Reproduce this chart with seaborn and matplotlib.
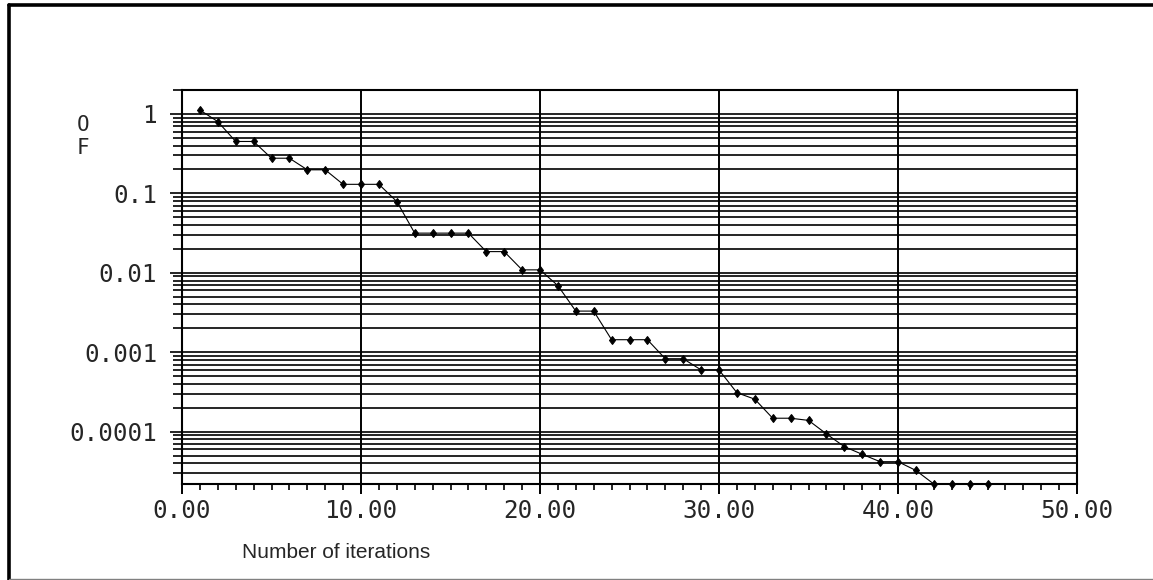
import numpy as np
import pandas as pd
import matplotlib
matplotlib.use("Agg")
import matplotlib.pyplot as plt
import matplotlib.ticker as mticker
from matplotlib.lines import Line2D
import seaborn as sns

# values
iterations = list(range(1, 46))
of_values = [1.12, 0.80, 0.45, 0.45, 0.277, 0.277, 0.198, 0.198, 0.130, 0.130,
             0.130, 0.079, 0.0316, 0.0316, 0.0316, 0.0316, 0.0185, 0.0185, 0.0109, 0.0109,
             0.0069, 0.0033, 0.0033, 0.00144, 0.00144, 0.00144, 0.00083, 0.00083, 0.0006, 0.0006,
             0.00031, 0.000257, 0.000148, 0.000148, 0.000139, 9.4e-5, 6.5e-5, 5.2e-5, 4.2e-5, 4.2e-5,
             3.26e-5, 2.2e-5, 2.2e-5, 2.2e-5, 2.2e-5]
x_ticks = [0, 10, 20, 30, 40, 50]
x_labels = ["0.00", "10.00", "20.00", "30.00", "40.00", "50.00"]
y_ticks = [1, 0.1, 0.01, 0.001, 0.0001]
y_labels = ["1", "0.1", "0.01", "0.001", "0.0001"]

df = pd.DataFrame({"iter": iterations, "of": of_values})

sns.set_style("white")
plt.rcParams["font.family"] = ["DejaVu Sans Mono", "DejaVu Sans"]

fig = plt.figure(figsize=(11.53, 5.80), dpi=100)
ax = fig.add_axes([182 / 1153, 1 - 484 / 580, (1077 - 182) / 1153, (484 - 90) / 580])

sns.lineplot(data=df, x="iter", y="of", ax=ax, color="black", linewidth=0.8,
             marker="d", markersize=4.5, markeredgecolor="black", markerfacecolor="black",
             clip_on=False)

ax.set_yscale("log")
ax.set_xlim(0, 50)
ax.set_ylim(2.2e-5, 2.0)

# grid: all log lines horizontally, decades vertically
ax.yaxis.set_major_locator(mticker.FixedLocator(y_ticks))
ax.yaxis.set_major_formatter(mticker.FixedFormatter(y_labels))
ax.yaxis.set_minor_locator(mticker.LogLocator(base=10, subs=np.arange(2, 10)))
ax.yaxis.set_minor_formatter(mticker.NullFormatter())
ax.xaxis.set_major_locator(mticker.FixedLocator(x_ticks))
ax.xaxis.set_major_formatter(mticker.FixedFormatter(x_labels))
ax.xaxis.set_minor_locator(mticker.MultipleLocator(1))

ax.grid(True, which="both", axis="y", color="black", linewidth=1.2)
ax.grid(True, which="major", axis="x", color="black", linewidth=1.4)
ax.set_axisbelow(True)

for s in ax.spines.values():
    s.set_color("black")
    s.set_linewidth(1.5)
    s.set_visible(True)

ax.tick_params(axis="y", which="both", left=True)
ax.tick_params(axis="x", which="both", bottom=True)
ax.tick_params(axis="y", which="major", direction="out", length=9, width=1.2,
               color="black", pad=9, labelsize=17.5)
ax.tick_params(axis="y", which="minor", direction="out", length=6.5, width=1.2, color="black")
ax.tick_params(axis="x", which="major", direction="out", length=7, width=1.4,
               color="black", pad=4, labelsize=17.5)
ax.tick_params(axis="x", which="minor", direction="out", length=4, width=1.2, color="black")

ax.set_xlabel("")
ax.set_ylabel("")

fig.text(83 / 1153, 1 - 125 / 580, "O", fontsize=15, ha="center", va="center")
fig.text(83 / 1153, 1 - 148 / 580, "F", fontsize=15, ha="center", va="center")
fig.text(242 / 1153, 1 - 553 / 580, "Number of iterations", fontsize=15,
         family="Liberation Sans", ha="left", va="center")

# frame of the original picture
fig.add_artist(Line2D([9 / 1153, 9 / 1153], [0, 1 - 5 / 580], transform=fig.transFigure,
                      color="black", linewidth=2.6))
fig.add_artist(Line2D([9 / 1153, 1], [1 - 5 / 580, 1 - 5 / 580], transform=fig.transFigure,
                      color="black", linewidth=2.6))
fig.add_artist(Line2D([9 / 1153, 1], [1 / 580, 1 / 580], transform=fig.transFigure,
                      color="gray", linewidth=1.0))

fig.savefig("out.png", dpi=100)
